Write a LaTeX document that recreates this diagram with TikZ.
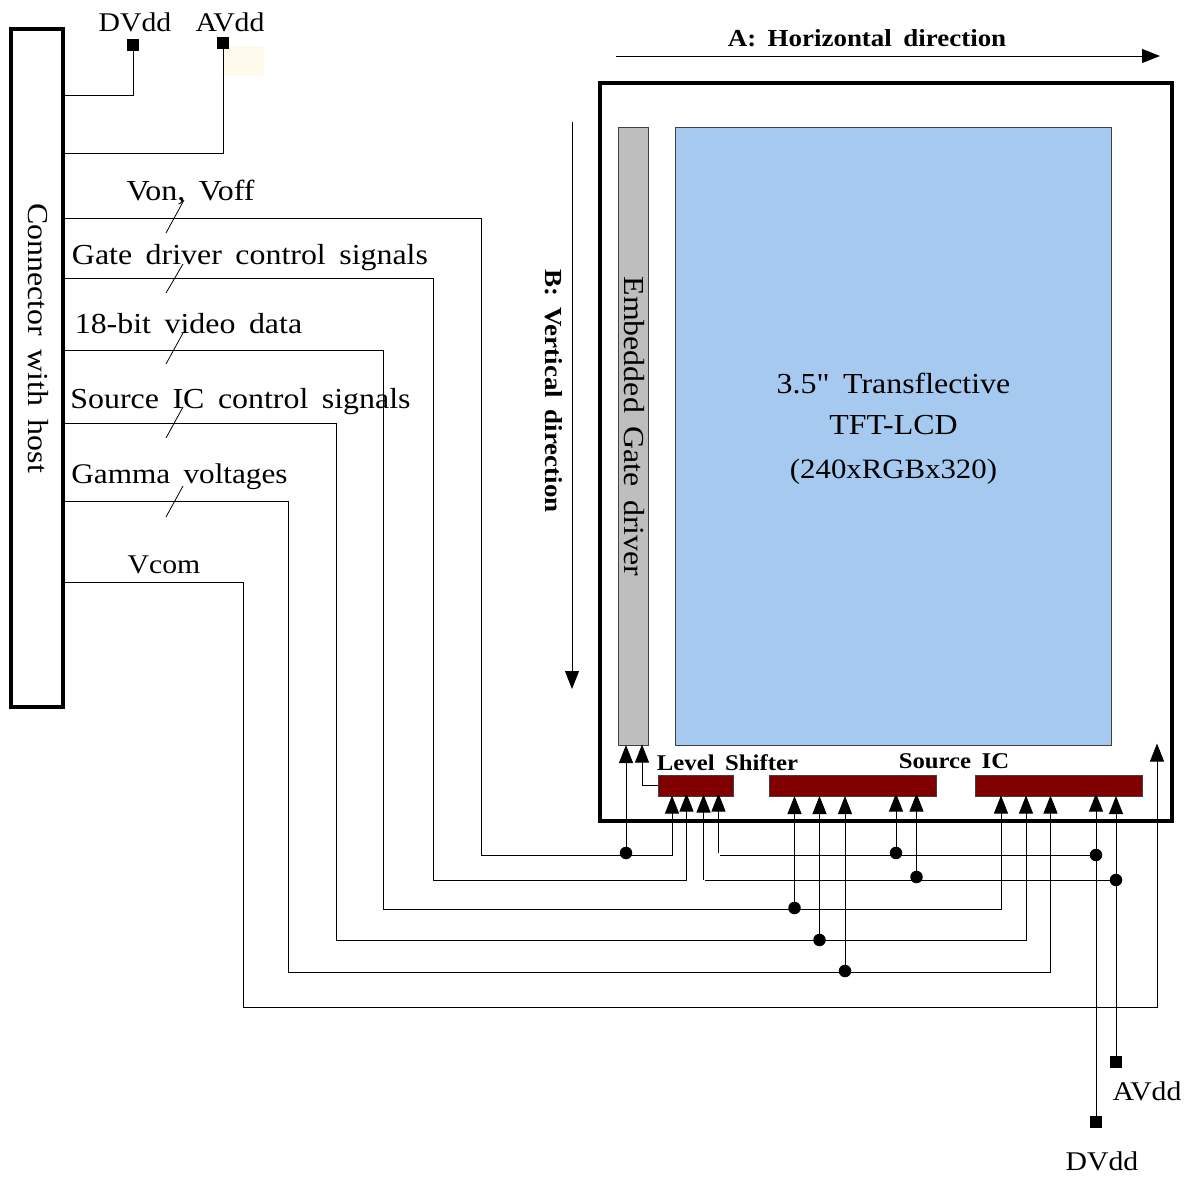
\documentclass[tikz,border=0pt]{standalone}
\usepackage{fontspec}
\newfontfamily\diafont[WordSpace=1.7,FakeStretch=1.1]{Liberation Serif}
\usetikzlibrary{arrows.meta}
\definecolor{lcdblue}{HTML}{A6C9EF}
\definecolor{drvgray}{HTML}{BEBEBE}
\definecolor{icred}{HTML}{800000}
\definecolor{pale}{HTML}{FFF9EC}
\tikzset{
  x=1pt,y=-1pt,
  wire/.style={line width=1pt,black},
  arr/.style={wire,-{Triangle[width=14pt,length=18pt]}},
  frame/.style={draw=black,line width=3.3pt,fill=none,inner sep=0pt,outer sep=0pt},
  block/.style={draw=black!75,line width=1pt,inner sep=0pt,outer sep=0pt},
  dot/.style={circle,fill=black,inner sep=0pt,minimum size=12.5pt},
  pad/.style={rectangle,fill=black,inner sep=0pt,minimum size=12.5pt},
  lab/.style={font=\diafont\fontsize{29}{31}\selectfont,inner sep=0pt},
  nlab/.style={font=\diafont\fontsize{27}{31}\selectfont,inner sep=0pt},
  blab/.style={font=\diafont\fontsize{24.5}{26}\selectfont\bfseries,inner sep=0pt},
  slab/.style={font=\diafont\fontsize{22.5}{26}\selectfont\bfseries,inner sep=0pt},
  tick/.style={line width=0.8pt,black},
}
\begin{document}
\begin{tikzpicture}
\useasboundingbox (0,0) rectangle (1192,1176);
\fill[pale] (222,46) rectangle (264,76);
% boxes
\node[frame,minimum width=52pt,minimum height=678pt,anchor=north west] (conn) at (11,29) {};
\node[frame,minimum width=572pt,minimum height=738pt,anchor=north west] (panel) at (600,83) {};
\node[block,fill=drvgray,minimum width=30.5pt,minimum height=618pt,anchor=north west] (gate) at (618,127) {};
\node[block,fill=lcdblue,minimum width=436.5pt,minimum height=618pt,anchor=north west] (lcd) at (675,127) {};
\node[block,fill=icred,minimum width=75pt,minimum height=20.5pt,anchor=north west] (ls) at (658,775.5) {};
\node[block,fill=icred,minimum width=167pt,minimum height=20.5pt,anchor=north west] (sa) at (769,775.5) {};
\node[block,fill=icred,minimum width=167pt,minimum height=20.5pt,anchor=north west] (sb) at (975,775.5) {};
% pads and dots
\node[pad] (pdt) at (133,45) {};
\node[pad] (pat) at (223,43) {};
\node[pad] (pdb) at (1096,1122) {};
\node[pad] (pab) at (1116,1062) {};
\node[dot] (dvon) at (626,853) {};
\node[dot] (dvid) at (794.5,908) {};
\node[dot] (dsrc) at (819.5,940) {};
\node[dot] (dgam) at (845,971) {};
\node[dot] (ddv1) at (896,853) {};
\node[dot] (dav1) at (916.5,877) {};
\node[dot] (ddv2) at (1096,855) {};
\node[dot] (dav2) at (1116,880) {};
% free ends
\coordinate (cdv) at (63,95);
\coordinate (cav) at (63,153);
\coordinate (cvon) at (61,218);
\coordinate (cgdc) at (63,278);
\coordinate (cvid) at (63,350);
\coordinate (csrc) at (63,423);
\coordinate (cgam) at (63,501);
\coordinate (cvcm) at (61,582);
\coordinate (rvon) at (481,855);
\coordinate (rgdc) at (433,880);
\coordinate (rvid) at (383,909);
\coordinate (rsrc) at (336,940);
\coordinate (rgam) at (288,972);
\coordinate (rvcm) at (243,1007);
\coordinate (tvon) at (672,795.5);
\coordinate (tgdc) at (686.5,793.5);
\coordinate (tav) at (703.5,794.5);
\coordinate (tdv) at (718.5,793.5);
\coordinate (tvid) at (1001,795.5);
\coordinate (tsrc) at (1026,795.5);
\coordinate (tgam) at (1050.5,795.5);
\coordinate (tvcm) at (1157,743.5);
\coordinate (jdv) at (720,855);
\coordinate (jav) at (705,880);
\coordinate (gl) at (642,744.5);
% power
\draw[wire] (cdv) -| (pdt);
\draw[wire] (cav) -| (pat);
% buses
\draw[arr] (cvon) -| (rvon) -- (rvon -| tvon) -- (tvon);
\draw[arr] (cgdc) -| (rgdc) -- (rgdc -| tgdc) -- (tgdc);
\draw[arr] (cvid) -| (rvid) -- (rvid -| tvid) -- (tvid);
\draw[arr] (csrc) -| (rsrc) -- (rsrc -| tsrc) -- (tsrc);
\draw[arr] (cgam) -| (rgam) -- (rgam -| tgam) -- (tgam);
\draw[arr] (cvcm) -| (rvcm) -- (rvcm -| tvcm) -- (tvcm);
% branch arrows
\draw[arr] (dvon) -- (dvon |- gate.south);
\draw[arr] (ls.west |- 0,785) -| (gl);
\draw[arr] (dvid) -- (dvid |- sa.south);
\draw[arr] (dsrc) -- (dsrc |- sa.south);
\draw[arr] (dgam) -- (dgam |- sa.south);
\draw[arr] (ddv1) -- (ddv1 |- 0,793.5);
\draw[arr] (dav1) -- (dav1 |- 0,793.5);
% supply rails
\draw[arr] (pdb) -- (pdb |- 0,793.5);
\draw[arr] (pab) -- (pab |- sb.south);
\draw[wire] (ddv2) -- (jdv);
\draw[arr] (718.5,853) -- (tdv);
\draw[wire] (dav2) -- (jav);
\draw[arr] (703.5,880) -- (tav);
% direction arrows
\coordinate (as) at (616,56);
\coordinate (ae) at (1160,56);
\coordinate (bs) at (572,122);
\coordinate (be) at (572,689);
\draw[arr] (as) -- (ae);
\draw[arr] (bs) -- (be);
% ticks
\draw[tick] (166,233) -- (184,200);
\draw[tick] (166,293) -- (183,264);
\draw[tick] (166,364) -- (183,333);
\draw[tick] (166,438) -- (183,407);
\draw[tick] (166,517) -- (183,486);
% labels
\node[nlab] (ldvt) at (135,22) {DVdd};
\node[nlab] (lavt) at (230,22) {AVdd};
\node[lab] (lvon) at (190.5,193) {Von, Voff};
\node[lab] (lgdc) at (250,258) {Gate driver control signals};
\node[lab] (lvid) at (188.5,324) {18-bit video data};
\node[lab] (lsrc) at (240.5,402) {Source IC control signals};
\node[nlab,font=\diafont\fontsize{28.4}{31}\selectfont] (lgam) at (179.5,477) {Gamma voltages};
\node[nlab] (lvcm) at (164,565) {Vcom};
\node[lab,rotate=-90] (lconn) at (38,338) {Connector with host};
\node[lab,rotate=-90] (lgate) at (634.5,426.5) {Embedded Gate driver};
\node[blab,rotate=-90] (lb) at (553.5,391) {B: Vertical direction};
\node[blab] (la) at (867,38) {A: Horizontal direction};
\node[slab] (lls) at (727.5,763) {Level Shifter};
\node[slab] (lsi) at (954,761) {Source IC};
\node[lab] (l1) at (893.5,383) {3.5" Transflective};
\node[lab] (l2) at (893.5,425) {TFT-LCD};
\node[nlab,font=\diafont\fontsize{28}{31}\selectfont] (l3) at (893.5,472) {(240xRGBx320)};
\node[nlab] (lavb) at (1147,1091) {AVdd};
\node[nlab] (ldvb) at (1102,1161) {DVdd};
\end{tikzpicture}
\end{document}
